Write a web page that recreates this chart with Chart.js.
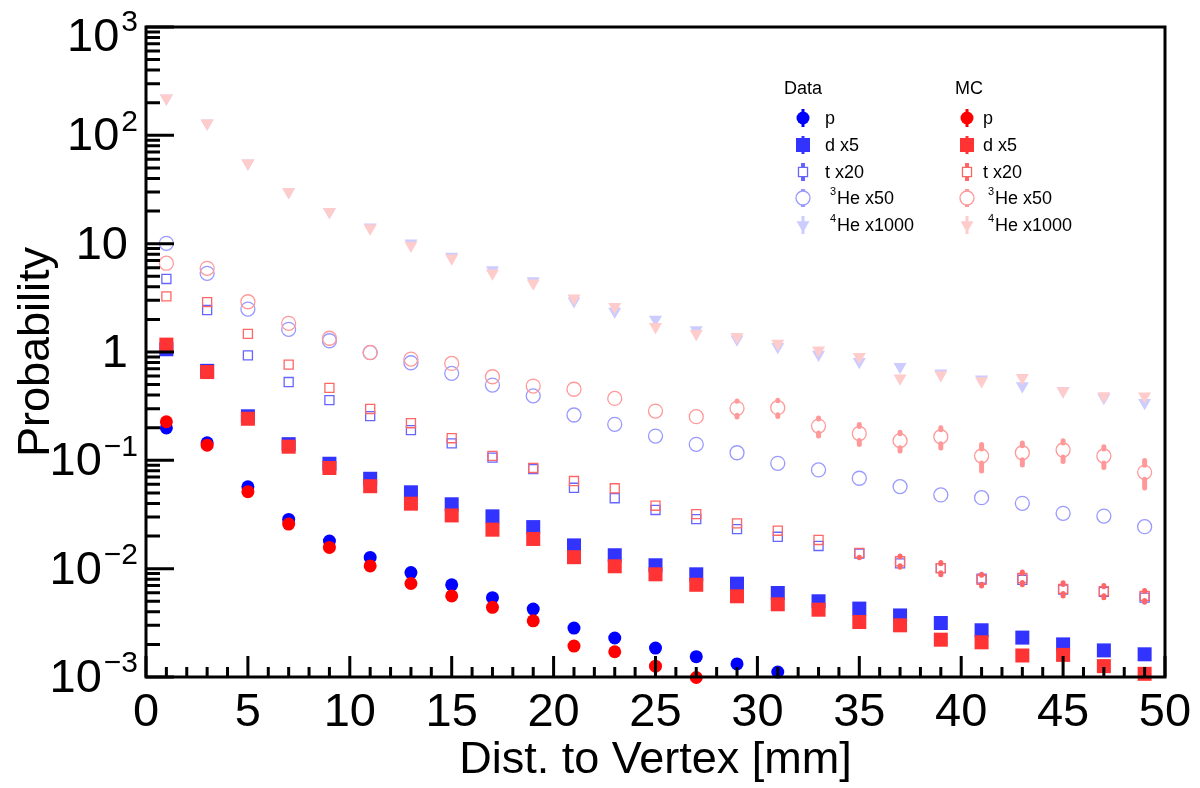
<!DOCTYPE html>
<html>
<head>
<meta charset="utf-8">
<title>Probability vs Dist. to Vertex</title>
<script src="https://cdn.jsdelivr.net/npm/chart.js@4.4.1/dist/chart.umd.min.js"></script>
<style>
  html, body { margin: 0; padding: 0; background: #fff; }
  #wrap { width: 1200px; height: 788px; }
</style>
</head>
<body>
<div id="wrap"><canvas id="vtxChart" width="1200" height="788"></canvas></div>
<script>
// bin centres [mm]
const dist = [1, 3, 5, 7, 9, 11, 13, 15, 17, 19, 21, 23, 25, 27, 29, 31, 33, 35, 37, 39, 41, 43, 45, 47, 49];

// Data
const dataP   = [0.199, 0.145, 0.057, 0.0285, 0.018, 0.0127, 0.0092, 0.0071, 0.0054, 0.00424, 0.00283, 0.00229, 0.00185, 0.00154, 0.00132, 0.00111, null, null, null, null, null, null, null, null, null];
const dataD   = [1.06, 0.67, 0.255, 0.141, 0.093, 0.0676, 0.0507, 0.0393, 0.0304, 0.0242, 0.0164, 0.0133, 0.01075, 0.00887, 0.00727, 0.00596, 0.0050, 0.00428, 0.0037, 0.00315, 0.0027, 0.00231, 0.0020, 0.00176, 0.00162];
const dataT   = [4.72, 2.44, 0.93, 0.528, 0.36, 0.256, 0.19, 0.1435, 0.106, 0.083, 0.0558, 0.0447, 0.0348, 0.0287, 0.0232, 0.0197, 0.0162, 0.0138, 0.0112, 0.0101, 0.0081, 0.0079, 0.0064, 0.0061, 0.0054];
const dataHe3 = [10.07, 5.32, 2.49, 1.62, 1.27, 0.985, 0.796, 0.635, 0.495, 0.394, 0.262, 0.215, 0.1675, 0.1406, 0.1175, 0.0938, 0.0815, 0.0683, 0.0572, 0.0479, 0.0452, 0.0401, 0.0324, 0.0306, 0.0244];
const dataHe4 = [220, 129, 55.2, 30.2, 19.7, 14.2, 10.1, 7.6, 5.72, 4.52, 2.96, 2.36, 2.0, 1.6, 1.31, 1.12, 0.95, 0.813, 0.731, 0.636, 0.56, 0.485, 0.44, 0.379, 0.34];

// MC
const mcP   = [0.227, 0.138, 0.0514, 0.0258, 0.0157, 0.0106, 0.0073, 0.0056, 0.0044, 0.0033, 0.00193, 0.00171, 0.00126, 0.00099, null, null, null, null, null, null, null, null, null, null, null];
const mcD   = [1.17, 0.653, 0.242, 0.1336, 0.085, 0.0577, 0.0398, 0.031, 0.0229, 0.0188, 0.01276, 0.01052, 0.00887, 0.0071, 0.00556, 0.00469, 0.00418, 0.00322, 0.0030, 0.00221, 0.00209, 0.00158, 0.0016, 0.00126, 0.00107];
const mcT   = [3.26, 2.89, 1.47, 0.764, 0.466, 0.298, 0.22, 0.16, 0.110, 0.085, 0.0644, 0.0552, 0.0381, 0.0319, 0.0262, 0.0224, 0.0184, 0.0140, 0.0117, 0.0101, 0.0079, 0.0082, 0.0065, 0.0062, 0.0056];
const mcHe3 = [6.6, 5.92, 2.91, 1.84, 1.34, 0.99, 0.861, 0.785, 0.591, 0.485, 0.453, 0.373, 0.285, 0.253, 0.302, 0.306, 0.207, 0.177, 0.152, 0.165, 0.1097, 0.1175, 0.1245, 0.1097, 0.0775];
const mcHe4 = [220, 129, 55.2, 30.2, 19.7, 13.9, 9.6, 7.33, 5.32, 4.3, 3.13, 2.62, 1.71, 1.47, 1.38, 1.2, 1.04, 0.906, 0.571, 0.614, 0.54, 0.579, 0.436, 0.392, 0.39];

// MC statistical errors (only the ones that stick out of the markers)
const mcTErr   = [null, null, null, null, null, null, null, null, null, null, null, null, null, null, null, null, null, 0.0014, 0.0014, 0.0013, 0.0010, 0.0011, 0.0009, 0.0008, 0.0007];
const mcHe3Err = [null, null, null, null, null, null, null, null, null, null, null, null, null, null, 0.051, 0.052, 0.039, 0.037, 0.030, 0.035, 0.030, 0.027, 0.027, 0.024, 0.022];

const yDecades = [-3, -2, -1, 0, 1, 2, 3];
const xMajorStep = 5;

const FONT = '"Liberation Sans", Arial, Helvetica, sans-serif';

function pts(vals) {
    return dist.map((x, i) => ({ x: x, y: vals[i] }));
}

// one entry per species: label, superscript, marker style
const species = [
    { sup: '', name: 'p',        data: dataP,   mc: mcP,   style: 'circle',   r: 6.5, fill: true,  blue: '#0000ff', red: '#ff0000' },
    { sup: '', name: 'd x5',     data: dataD,   mc: mcD,   style: 'rect',     r: 9.9, fill: true,  blue: '#3333ff', red: '#ff3333' },
    { sup: '', name: 't x20',    data: dataT,   mc: mcT,   style: 'rect',     r: 6.4, fill: false, blue: '#6666ff', red: '#ff6666', mcErr: mcTErr },
    { sup: '3', name: 'He x50',  data: dataHe3, mc: mcHe3, style: 'circle',   r: 7,   fill: false, blue: '#9999ff', red: '#ff9999', mcErr: mcHe3Err },
    { sup: '4', name: 'He x1000', data: dataHe4, mc: mcHe4, style: 'triangle', r: 7.5, fill: true,  blue: '#ccccff', red: '#ffcccc' }
];

function makeSet(sp, vals, color, isMC, err) {
    return {
        label: (isMC ? 'MC ' : 'Data ') + sp.sup + sp.name,
        data: pts(vals),
        order: isMC ? 0 : 1,
        showLine: false,
        pointStyle: sp.style,
        rotation: sp.style === 'triangle' ? 180 : 0,
        pointRadius: sp.r,
        pointBackgroundColor: sp.fill ? color : 'rgba(0,0,0,0)',
        pointBorderColor: color,
        pointBorderWidth: sp.fill ? 0 : 1.3,
        clip: false,
        yErr: err || null,
        errGap: sp.style === 'rect' ? sp.r * Math.SQRT1_2 : sp.r,
        errColor: color
    };
}

const datasets = [];
species.forEach(sp => {
    datasets.push(makeSet(sp, sp.mc, sp.red, true, sp.mcErr));
    datasets.push(makeSet(sp, sp.data, sp.blue, false));
});

// error bars, drawn only outside the marker like ROOT does
const errorBars = {
    id: 'errorBars',
    afterDatasetsDraw(chart) {
        const ctx = chart.ctx;
        const yS = chart.scales.y;
        chart.data.datasets.forEach((ds, di) => {
            if (!ds.yErr) return;
            const meta = chart.getDatasetMeta(di);
            ctx.save();
            ctx.strokeStyle = ds.errColor;
            ctx.lineWidth = 5;
            ctx.lineCap = 'round';
            ds.data.forEach((p, i) => {
                const e = ds.yErr[i];
                if (e == null || p.y == null) return;
                const el = meta.data[i];
                const yHi = yS.getPixelForValue(p.y + e);
                const yLo = yS.getPixelForValue(p.y - e);
                const g = ds.errGap;
                ctx.beginPath();
                if (yHi < el.y - g) { ctx.moveTo(el.x, el.y - g); ctx.lineTo(el.x, yHi); }
                if (yLo > el.y + g) { ctx.moveTo(el.x, el.y + g); ctx.lineTo(el.x, yLo); }
                ctx.stroke();
            });
            ctx.restore();
        });
    }
};

// frame, inward ticks and the 10^n labels
const rootAxes = {
    id: 'rootAxes',
    afterDraw(chart) {
        const ctx = chart.ctx;
        const a = chart.chartArea;
        const xS = chart.scales.x, yS = chart.scales.y;
        ctx.save();
        ctx.strokeStyle = '#000';
        ctx.lineWidth = 3;
        ctx.beginPath();
        // x ticks
        for (let v = xS.min; v <= xS.max; v++) {
            const px = xS.getPixelForValue(v);
            const len = v % xMajorStep === 0 ? 21 : 10;
            ctx.moveTo(px, a.bottom);
            ctx.lineTo(px, a.bottom - len);
        }
        // y ticks
        yDecades.forEach(d => {
            const py = yS.getPixelForValue(Math.pow(10, d));
            ctx.moveTo(a.left, py);
            ctx.lineTo(a.left + 28, py);
            if (d < 3) {
                for (let k = 2; k <= 9; k++) {
                    const pm = yS.getPixelForValue(k * Math.pow(10, d));
                    ctx.moveTo(a.left, pm);
                    ctx.lineTo(a.left + 14, pm);
                }
            }
        });
        ctx.stroke();
        ctx.strokeRect(a.left, a.top, a.right - a.left, a.bottom - a.top);

        // y labels
        ctx.fillStyle = '#000';
        ctx.textBaseline = 'middle';
        ctx.textAlign = 'right';
        const xr = 134;
        yDecades.forEach(d => {
            let py = yS.getPixelForValue(Math.pow(10, d));
            py = Math.max(py, 36);
            if (d === 0 || d === 1) {
                ctx.font = '47px ' + FONT;
                ctx.fillText(d === 0 ? '1' : '10', xr - 6, py + 2);
                return;
            }
            const expTxt = d < 0 ? '\u2212' + (-d) : String(d);
            ctx.font = '30px ' + FONT;
            const ew = ctx.measureText(expTxt).width;
            ctx.fillText(expTxt, xr + 4, py - 13);
            ctx.font = '47px ' + FONT;
            ctx.fillText('10', xr + 2 - ew, py + 2);
        });
        ctx.restore();
    }
};

// two-column legend (Data / MC)
const legendRowsY = [118, 145, 172, 198, 225];
const rootLegend = {
    id: 'rootLegend',
    afterDraw(chart) {
        const ctx = chart.ctx;
        const cols = [
            { head: 'Data', hx: 784, mx: 803, tx: 825, key: 'blue' },
            { head: 'MC',   hx: 955, mx: 967, tx: 983, key: 'red' }
        ];
        ctx.save();
        ctx.textBaseline = 'middle';
        ctx.textAlign = 'left';
        cols.forEach(c => {
            ctx.font = '18px ' + FONT;
            ctx.fillStyle = '#000';
            ctx.fillText(c.head, c.hx, 89);
            species.forEach((sp, i) => {
                const y = legendRowsY[i];
                const col = sp[c.key];
                // error stem behind the marker
                ctx.strokeStyle = col;
                ctx.lineWidth = sp.fill ? 3 : 4;
                ctx.beginPath();
                ctx.moveTo(c.mx, y - 9);
                ctx.lineTo(c.mx, y + 9);
                ctx.stroke();
                ctx.fillStyle = sp.fill ? col : '#fff';
                ctx.lineWidth = 1.3;
                Chart.helpers.drawPoint(ctx, {
                    pointStyle: sp.style,
                    rotation: sp.style === 'triangle' ? 180 : 0,
                    radius: sp.r,
                    borderWidth: sp.fill ? 0 : 1.3
                }, c.mx, y);
                ctx.fillStyle = '#000';
                if (sp.sup) {
                    ctx.font = '11px ' + FONT;
                    ctx.fillText(sp.sup, c.tx + 5, y - 6);
                    ctx.font = '18px ' + FONT;
                    ctx.fillText(sp.name, c.tx + 12, y + 1);
                } else {
                    ctx.font = '18px ' + FONT;
                    ctx.fillText(sp.name, c.tx, y + 1);
                }
            });
        });
        ctx.restore();
    }
};

const ctx = document.getElementById('vtxChart').getContext('2d');
const vtxChart = new Chart(ctx, {
    type: 'scatter',
    data: { datasets: datasets },
    options: {
        responsive: false,
        animation: false,
        layout: { padding: { top: 27, right: 35, left: 0, bottom: 0 } },
        plugins: {
            legend: { display: false },
            tooltip: { enabled: false }
        },
        scales: {
            x: {
                type: 'linear',
                min: 0,
                max: 50,
                grid: { display: false, drawTicks: false },
                border: { display: false },
                ticks: {
                    stepSize: xMajorStep,
                    autoSkip: false,
                    maxRotation: 0,
                    padding: 8,
                    color: '#000',
                    font: { family: FONT, size: 47 }
                },
                title: {
                    display: true,
                    text: 'Dist. to Vertex [mm]',
                    color: '#000',
                    font: { family: FONT, size: 45 },
                    padding: { top: 0, bottom: 0 }
                },
                afterFit(scale) { scale.height = 111; }
            },
            y: {
                type: 'logarithmic',
                min: 1e-3,
                max: 1e3,
                grid: { display: false, drawTicks: false },
                border: { display: false },
                ticks: { display: false },
                title: {
                    display: true,
                    text: 'Probability',
                    color: '#000',
                    font: { family: FONT, size: 45 },
                    padding: { top: 10, bottom: 0 }
                },
                afterFit(scale) { scale.width = 146; }
            }
        }
    },
    plugins: [errorBars, rootAxes, rootLegend]
});
</script>
</body>
</html>
